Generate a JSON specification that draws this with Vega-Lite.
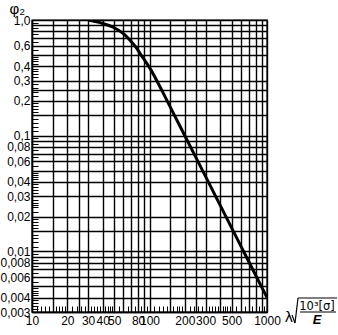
{
  "$schema": "https://vega.github.io/schema/vega-lite/v6.json",
  "width": 235,
  "height": 292,
  "autosize": {"type": "none"},
  "padding": {"left": 32, "top": 20, "right": 71, "bottom": 23},
  "background": "white",
  "config": {"view": {"stroke": "black", "strokeWidth": 1.4}, "font": "Liberation Sans"},
  "layer": [
    {
      "data": {"values": [
        {"lambda": 30, "phi": 1.0},
        {"lambda": 38, "phi": 0.948},
        {"lambda": 51, "phi": 0.848},
        {"lambda": 60, "phi": 0.763},
        {"lambda": 68, "phi": 0.672},
        {"lambda": 76, "phi": 0.588},
        {"lambda": 83, "phi": 0.515},
        {"lambda": 101, "phi": 0.382},
        {"lambda": 127, "phi": 0.248},
        {"lambda": 170, "phi": 0.138},
        {"lambda": 200, "phi": 0.1},
        {"lambda": 260, "phi": 0.0592},
        {"lambda": 412, "phi": 0.0236},
        {"lambda": 716, "phi": 0.0078},
        {"lambda": 1000, "phi": 0.004}
      ]},
      "mark": {"type": "line", "color": "black", "strokeWidth": 3, "interpolate": "monotone", "clip": true},
      "encoding": {
        "x": {
          "field": "lambda", "type": "quantitative",
          "scale": {"type": "log", "domain": [10, 1000], "nice": false},
          "axis": {
            "title": null,
            "values": [10,11,12,13,14,15,16,17,18,19,20,22,24,25,26,28,30,32,34,36,38,40,42,44,46,48,50,55,60,65,70,75,80,85,90,95,100,110,120,130,140,150,160,170,180,190,200,220,240,250,260,280,300,320,340,360,380,400,420,440,460,480,500,550,600,650,700,750,800,850,900,950,1000],
            "grid": true, "gridColor": "black", "gridWidth": 1.4,
            "gridOpacity": {"condition": {"test": "indexof([10,15,20,25,30,40,50,60,70,80,90,100,150,200,250,300,400,500,600,700,800,900,1000], datum.value) >= 0", "value": 1}, "value": 0},
            "ticks": true, "tickSize": -6, "tickColor": "black", "tickWidth": 1,
            "domain": true, "domainColor": "black", "domainWidth": 1.4,
            "format": "d",
            "labelExpr": "indexof([10,20,30,40,50,80,100,200,300,500,1000], datum.value) >= 0 ? datum.label : ''",
            "labelFont": "Liberation Sans", "labelFontSize": 12, "labelColor": "black",
            "labelPadding": 9, "labelOverlap": false, "labelFlush": false
          }
        },
        "y": {
          "field": "phi", "type": "quantitative",
          "scale": {"type": "log", "domain": [0.003, 1], "nice": false, "zero": false},
          "axis": {
            "title": "φ₂", "titleAngle": 0, "titleX": -23, "titleY": -7, "titleAlign": "left", "titleBaseline": "alphabetic",
            "titleFont": "Liberation Sans", "titleFontSize": 15, "titleFontWeight": "normal", "titleColor": "black",
            "values": [1,0.95,0.9,0.85,0.8,0.75,0.7,0.65,0.6,0.55,0.5,0.48,0.46,0.44,0.42,0.4,0.38,0.36,0.34,0.32,0.3,0.28,0.26,0.25,0.24,0.22,0.2,0.19,0.18,0.17,0.16,0.15,0.14,0.13,0.12,0.11,0.1,0.095,0.09,0.085,0.08,0.075,0.07,0.065,0.06,0.055,0.05,0.048,0.046,0.044,0.042,0.04,0.038,0.036,0.034,0.032,0.03,0.028,0.026,0.025,0.024,0.022,0.02,0.019,0.018,0.017,0.016,0.015,0.014,0.013,0.012,0.011,0.01,0.0095,0.009,0.0085,0.008,0.0075,0.007,0.0065,0.006,0.0055,0.005,0.0048,0.0046,0.0044,0.0042,0.004,0.0038,0.0036,0.0034,0.0032,0.003],
            "grid": true, "gridColor": "black", "gridWidth": 1.4,
            "gridOpacity": {"condition": {"test": "indexof([1,0.9,0.8,0.7,0.6,0.5,0.4,0.3,0.25,0.2,0.15,0.1,0.09,0.08,0.07,0.06,0.05,0.04,0.03,0.02,0.015,0.01,0.009,0.008,0.007,0.006,0.005,0.004,0.003], datum.value) >= 0", "value": 1}, "value": 0},
            "ticks": true, "tickSize": -6, "tickColor": "black", "tickWidth": 1,
            "domain": true, "domainColor": "black", "domainWidth": 1.4,
            "labelExpr": "datum.value == 1 ? '1,0' : (indexof([0.6,0.4,0.3,0.2,0.1,0.08,0.06,0.04,0.03,0.02,0.01,0.008,0.006,0.004,0.003], datum.value) >= 0 ? replace('' + datum.value, '.', ',') : '')",
            "labelFont": "Liberation Sans", "labelFontSize": 12, "labelColor": "black",
            "labelPadding": 8, "labelOverlap": false, "labelFlush": false
          }
        }
      }
    },
    {
      "data": {"values": [{}]},
      "mark": {"type": "text", "text": "λ", "font": "DejaVu Sans", "fontSize": 14, "align": "center", "baseline": "alphabetic", "dx": 22, "dy": 10, "color": "black"},
      "encoding": {"x": {"datum": 1000, "type": "quantitative"}, "y": {"datum": 0.003, "type": "quantitative"}}
    },
    {
      "data": {"values": [{}]},
      "mark": {"type": "text", "text": "10³[σ]", "font": "DejaVu Sans", "fontSize": 11.5, "align": "center", "baseline": "alphabetic", "dx": 50, "dy": -2, "color": "black"},
      "encoding": {"x": {"datum": 1000, "type": "quantitative"}, "y": {"datum": 0.003, "type": "quantitative"}}
    },
    {
      "data": {"values": [{}]},
      "mark": {"type": "text", "text": "E", "font": "Liberation Sans", "fontSize": 13, "fontWeight": "bold", "fontStyle": "italic", "align": "center", "baseline": "alphabetic", "dx": 50, "dy": 12, "color": "black"},
      "encoding": {"x": {"datum": 1000, "type": "quantitative"}, "y": {"datum": 0.003, "type": "quantitative"}}
    },
    {
      "data": {"values": [{}]},
      "mark": {"type": "rule", "color": "black", "strokeWidth": 1.2, "xOffset": 33, "x2Offset": 69, "yOffset": 0, "y2Offset": 0},
      "encoding": {"x": {"datum": 1000, "type": "quantitative"}, "x2": {"datum": 1000}, "y": {"datum": 0.003, "type": "quantitative"}, "y2": {"datum": 0.003}}
    },
    {
      "data": {"values": [{}]},
      "mark": {"type": "rule", "color": "black", "strokeWidth": 1.2, "xOffset": 31, "x2Offset": 70, "yOffset": -14, "y2Offset": -14},
      "encoding": {"x": {"datum": 1000, "type": "quantitative"}, "x2": {"datum": 1000}, "y": {"datum": 0.003, "type": "quantitative"}, "y2": {"datum": 0.003}}
    },
    {
      "data": {"values": [{}]},
      "mark": {"type": "rule", "color": "black", "strokeWidth": 1.2, "xOffset": 25, "x2Offset": 28, "yOffset": 3, "y2Offset": 11},
      "encoding": {"x": {"datum": 1000, "type": "quantitative"}, "x2": {"datum": 1000}, "y": {"datum": 0.003, "type": "quantitative"}, "y2": {"datum": 0.003}}
    },
    {
      "data": {"values": [{}]},
      "mark": {"type": "rule", "color": "black", "strokeWidth": 1.2, "xOffset": 28, "x2Offset": 31, "yOffset": 11, "y2Offset": -14},
      "encoding": {"x": {"datum": 1000, "type": "quantitative"}, "x2": {"datum": 1000}, "y": {"datum": 0.003, "type": "quantitative"}, "y2": {"datum": 0.003}}
    }
  ]
}
